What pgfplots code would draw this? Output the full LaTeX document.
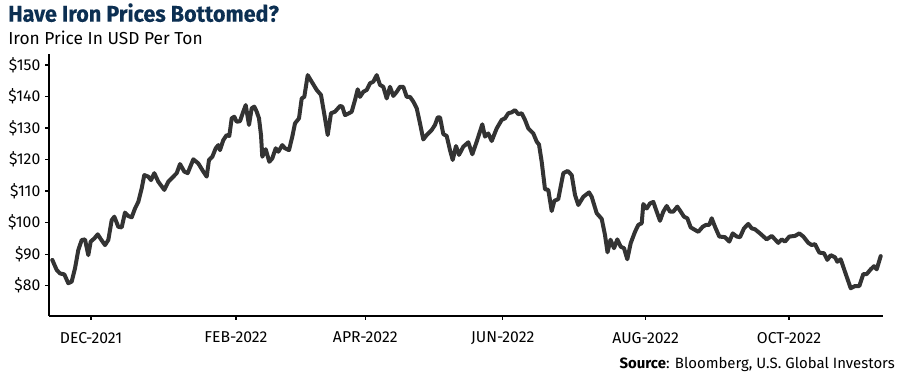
\documentclass[border=0pt]{standalone}
\usepackage{fontspec}
\setmainfont{Fira Sans}
\newfontfamily\titlefont[FakeStretch=0.95, BoldFeatures={FakeBold=0.3}]{Fira Sans}
\newfontfamily\subfont{Fira Sans}
\usepackage{pgfplots}
\pgfplotsset{compat=1.18}
\definecolor{navy}{HTML}{0C2F52}
\definecolor{linegray}{HTML}{333333}
\begin{document}
\begin{tikzpicture}
\path[use as bounding box] (0,0) rectangle (675pt,281.25pt);
\begin{axis}[
  at={(36.75pt,44.25pt)}, anchor=south west,
  scale only axis, width=625.5pt, height=196.5pt,
  xmin=49, xmax=883, ymin=70.4, ymax=153.5,
  axis x line*=bottom, axis y line*=left,
  axis line style={line width=1.2pt, black, -},
  tick align=outside,
  major tick length=3pt,
  tick style={line width=1pt, black},
  xtick={91,236,365.3,502.7,645.7,789},
  xticklabels={DEC-2021,FEB-2022,APR-2022,JUN-2022,AUG-2022,OCT-2022},
  ytick={80,90,...,150},
  yticklabels={\$80,\$90,\$100,\$110,\$120,\$130,\$140,\$150},
  ticklabel style={font=\fontsize{11.8}{13}\selectfont, text=black},
  xticklabel style={yshift=-5.5pt},
  clip=false,
]
\addplot[linegray, line width=3pt, line join=round, line cap=round] coordinates {
(52.3,88.2) (56.7,85.0) (60,83.9) (64.3,83.6) (68.3,80.8) (71.7,81.3) (75,85.5) (78.3,91.3)
(81.7,94.5) (85,94.7) (88.3,89.7) (90.7,94.0) (94.3,95.0) (97.7,96.3) (101,94.7) (105,92.9)
(108.3,94.5) (111.7,100.8) (114.3,101.9) (118.3,98.7) (121.7,98.5) (125,103.2) (128.3,102.1)
(131.7,101.7) (135,104.5) (138.3,106.6) (141.7,110.9) (144.3,115.1) (148.3,114.6) (151,113.5)
(154.3,115.7) (158.3,113.0) (164.3,110.4) (168.3,113.0) (173.3,114.6) (176.7,115.7) (180,118.6)
(184.3,116.2) (187.7,115.7) (193.3,120.1) (198.3,118.8) (203.3,116.2) (206.7,114.6) (209,119.9)
(212.3,120.9) (215.7,123.6) (218.3,124.6) (220,123.0) (223.3,126.2) (226.7,127.8) (229.3,127.5)
(231.7,133.1) (234.3,133.6) (236.7,132.0) (240,132.2) (242.7,134.7) (245.7,137.3) (249,131.0)
(251.7,136.3) (254.3,136.8) (256.7,135.2) (259,133.1) (261,127.8) (262.3,120.9) (265.7,123.3)
(269.3,119.3) (272.3,120.4) (275.7,123.6) (278.3,122.5) (282.3,124.6) (285,123.6) (289,123.0)
(292.3,127.3) (295,131.5) (299,133.1) (301.7,139.4) (304.3,139.9) (307.7,146.8) (311.7,144.7)
(316.7,142.1) (321,140.5) (325,133.1) (327.7,127.8) (331,134.7) (335,135.2) (340,137.0)
(342.3,136.8) (345,134.1) (349,134.7) (351.7,135.2) (355,138.9) (357.7,142.3) (360,139.9)
(363.3,141.5) (366.7,142.1) (370,144.2) (373.3,144.7) (376.7,146.8) (380,143.7) (383.3,143.1)
(386.7,139.4) (390,143.1) (393.3,140.2) (396.7,141.5) (400,143.1) (403.3,143.1) (406.7,139.9)
(410,139.9) (413.3,138.4) (416.7,136.3) (420,131.5) (423.3,126.4) (426.7,127.8) (431.7,129.4)
(435,131.0) (437.7,133.4) (440,133.4) (443.3,128.1) (446.7,127.5) (450,123.0) (452.7,119.9)
(456,124.3) (459,121.5) (463.3,124.1) (468.3,125.5) (472.3,121.7) (476.7,125.7) (482.3,131.2)
(485,127.3) (488.3,128.3) (491.7,125.9) (496.7,129.9) (501.7,132.6) (505,133.1) (508.3,134.7)
(511.7,135.0) (515,135.7) (518.3,134.4) (521.7,134.7) (525,132.6) (528.3,129.9) (533.3,128.3)
(536.7,125.7) (539,124.8) (541.7,119.3) (545,110.6) (548.3,110.4) (551.7,103.7) (554.3,106.9)
(558.3,107.5) (563.3,115.7) (567.7,116.4) (571.7,115.1) (575,108.8) (578.3,105.6) (583.3,108.2)
(589,109.6) (591.7,108.2) (596.7,103.0) (601.7,101.2) (605,96.1) (607.5,90.6) (610.5,94.6)
(614,91.9) (617.3,94.7) (620.7,92.4) (624,91.9) (627.3,88.4) (630.7,93.5) (635,97.1) (638.3,99.3)
(641.7,99.8) (643.3,105.9) (646.7,104.5) (650,106.1) (653.3,106.6) (656.7,103.5) (660,100.6)
(663.3,103.5) (666.7,105.3) (670,103.5) (673.3,103.5) (677.3,105.1) (680.7,103.5) (684,101.9)
(687.3,101.4) (690.7,98.5) (695,97.7) (698.3,97.1) (702.7,98.7) (706,99.3) (709.3,99.3)
(711.7,101.4) (715,98.7) (719.3,95.6) (725,95.4) (729.3,94.0) (732.7,96.6) (736.7,95.6)
(740,95.4) (744,98.2) (748.3,99.6) (751.7,98.2) (755,97.9) (760,96.6) (766.7,94.7) (771.7,95.8)
(775,94.7) (778.3,93.6) (781.7,94.7) (785,94.0) (789.3,95.6) (795,95.8) (799.3,96.6) (803.3,95.6)
(808.3,93.6) (811.7,92.9) (815,93.2) (819.3,90.5) (824,90.3) (827.3,88.2) (830.7,89.7) (835,89.0)
(837.3,87.6) (840.7,88.4) (845,84.4) (850.7,79.2) (855,79.9) (859.3,79.9) (863.3,83.7) (866.7,83.7)
(870.7,85.2) (874,86.2) (876.7,85.2) (880.7,89.4)
};
\end{axis}
\begin{scope}[x=0.75pt,y=-0.75pt,shift={(0,281.25pt)}]
\node[anchor=base west, inner sep=0, text=navy, font=\titlefont\bfseries\fontsize{17}{20}\selectfont] at (8,21.7) {Have Iron Prices Bottomed?};
\node[anchor=base west, inner sep=0, font=\subfont\fontsize{13}{15}\selectfont] at (8,44.3) {Iron Price In USD Per Ton};
\node[anchor=base east, inner sep=0, font=\fontsize{11.2}{13}\selectfont] at (895,368) {\textbf{Source}: Bloomberg, U.S. Global Investors};
\end{scope}
\end{tikzpicture}
\end{document}
